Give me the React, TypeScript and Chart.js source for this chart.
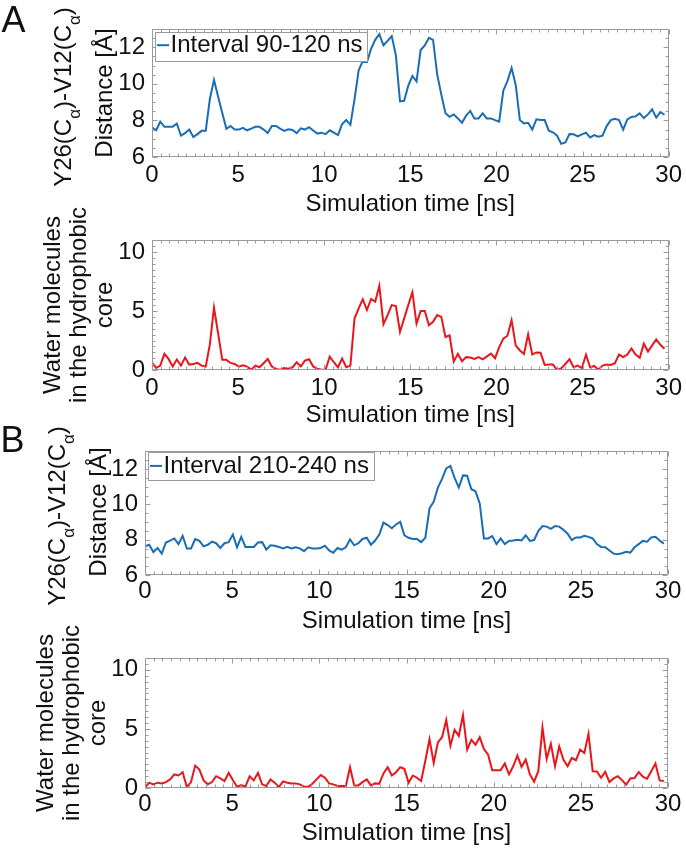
import React, { useEffect, useRef } from 'react';
import { Chart, registerables } from 'chart.js';

Chart.register(...registerables);

// ---- data ----
const TIME_STEP_NS = 0.24;

const DIST_A = [
  7.63, 7.46, 7.93, 7.65, 7.65, 7.66, 7.83, 7.17, 7.3, 7.5, 7.09, 7.25, 7.43, 7.44, 9.17, 10.22, 9.3, 8.4, 7.54, 7.7,
  7.5, 7.5, 7.59, 7.46, 7.55, 7.65, 7.65, 7.5, 7.31, 7.7, 7.7, 7.55, 7.43, 7.52, 7.48, 7.31, 7.57, 7.5, 7.63, 7.45,
  7.28, 7.33, 7.25, 7.46, 7.33, 7.2, 7.8, 8.02, 7.76, 9.15, 10.74, 11.26, 11.2, 11.91, 12.41, 12.72, 12.11, 12.35, 12.61, 11.57,
  9.04, 9.07, 9.9, 10.43, 10.13, 11.85, 12.1, 12.52, 12.41, 10.52, 9.41, 8.39, 8.2, 8.33, 8.11, 7.87, 8.26, 8.52, 8.11, 8.11,
  8.39, 8.11, 8.11, 8.02, 7.93, 9.63, 10.15, 10.87, 9.94, 8.02, 7.83, 7.87, 7.5, 8.06, 8.02, 8.02, 7.44, 7.35, 7.17, 6.72,
  6.8, 7.26, 7.24, 7.13, 7.24, 7.33, 7.07, 7.2, 7.11, 7.17, 7.69, 8.02, 8.09, 8.02, 7.5, 8.06, 8.19, 8.22, 8.39, 8.13,
  8.33, 8.61, 8.15, 8.46, 8.31,
];

const WATER_A = [
  0.66, 0.17, 0.37, 1.37, 0.94, 0.29, 0.89, 0.37, 1.06, 0.46, 0.51, 0.6, 0.37, 0.29, 2.17, 5.29, 3.1, 0.86, 0.86, 0.6,
  0.51, 0.29, 0.4, 0.29, 0.03, 0.37, 0.23, 0.57, 0.94, 0.29, 0.09, 0.03, 0.17, 0.11, 0.23, 0.66, 0.31, 0.8, 0.91, 0.29,
  0.11, 0.03, 0.03, 1.14, 0.66, 0.23, 0.97, 0.23, 0.37, 4.37, 5.23, 6.0, 5.09, 6.03, 5.8, 7.14, 3.89, 4.66, 5.51, 5.43,
  3.23, 4.37, 5.51, 6.6, 3.94, 5.0, 5.0, 3.8, 4.09, 4.66, 4.51, 2.8, 2.94, 0.71, 1.37, 0.74, 1.09, 1.06, 0.94, 1.09,
  0.91, 1.14, 1.4, 1.0, 1.94, 2.66, 2.91, 4.23, 2.09, 1.66, 1.37, 3.03, 1.31, 1.49, 1.46, 0.43, 0.46, 0.46, 0.0, 0.14,
  0.51, 0.91, 0.23, 0.37, 0.17, 1.29, 0.23, 0.34, 0.03, 0.37, 0.46, 0.43, 0.57, 1.31, 1.09, 1.31, 1.83, 1.31, 1.03, 2.23,
  1.57, 2.09, 2.6, 2.14, 1.8,
];

const DIST_B = [
  7.62, 7.71, 7.3, 7.53, 7.21, 7.84, 7.95, 8.07, 7.75, 8.22, 7.5, 7.5, 8.04, 7.93, 7.62, 7.71, 7.89, 7.8, 7.53, 7.8,
  7.86, 8.29, 7.57, 8.16, 7.59, 7.59, 7.59, 7.84, 7.86, 7.44, 7.68, 7.66, 7.59, 7.51, 7.59, 7.5, 7.57, 7.51, 7.35, 7.57,
  7.5, 7.5, 7.53, 7.66, 7.39, 7.26, 7.53, 7.44, 7.57, 8.02, 7.68, 7.8, 8.04, 8.11, 7.71, 7.95, 8.29, 8.97, 8.83, 8.65,
  8.86, 9.01, 8.25, 8.11, 8.04, 8.04, 7.86, 8.11, 9.78, 10.14, 10.95, 11.44, 12.04, 12.18, 11.5, 10.95, 11.64, 11.62, 10.86, 10.74,
  10.05, 8.07, 8.07, 8.2, 7.75, 8.07, 7.75, 7.93, 7.96, 8.0, 7.96, 8.25, 7.93, 7.98, 8.49, 8.77, 8.74, 8.61, 8.77, 8.74,
  8.56, 8.34, 7.98, 8.13, 8.13, 8.22, 8.16, 8.07, 7.75, 7.59, 7.57, 7.39, 7.21, 7.17, 7.23, 7.32, 7.27, 7.57, 7.75, 7.93,
  7.89, 8.13, 8.16, 7.95, 7.78,
];

const WATER_B = [
  0.03, 0.45, 0.31, 0.45, 0.39, 0.5, 0.73, 1.15, 1.06, 1.34, 0.08, 0.5, 1.9, 1.56, 0.64, 0.31, 0.5, 1.0, 0.81, 0.59,
  1.28, 0.67, 0.11, 0.25, 0.11, 1.0, 0.64, 1.28, 0.31, 0.17, 0.73, 0.45, 0.08, 0.56, 0.45, 0.39, 0.39, 0.31, 0.11, 0.11,
  0.36, 0.73, 1.09, 0.87, 0.39, 0.31, 0.17, 0.17, 0.17, 1.76, 0.22, 0.22, 0.5, 0.73, 0.22, 0.39, 0.36, 1.23, 1.76, 1.06,
  1.34, 1.76, 1.62, 0.45, 1.06, 0.87, 0.59, 2.3, 4.13, 2.12, 3.85, 4.3, 5.75, 3.58, 4.92, 4.41, 6.17, 3.24, 4.08, 3.66,
  4.3, 3.3, 2.82, 1.51, 1.51, 1.51, 2.07, 1.15, 1.84, 2.74, 1.79, 2.4, 1.15, 0.53, 1.42, 5.11, 2.46, 3.74, 1.84, 3.52,
  2.4, 1.84, 2.54, 2.35, 3.24, 2.96, 4.58, 1.42, 1.4, 0.87, 1.37, 0.5, 0.81, 1.0, 0.67, 0.28, 0.81, 0.84, 1.34, 0.95,
  0.78, 1.42, 2.07, 0.64, 0.59,
];

const X_TITLE = 'Simulation time [ns]';
const LEGEND_A = 'Interval 90-120 ns';
const LEGEND_B = 'Interval 210-240 ns';

// ---- styles ----
const FONT = '"Liberation Sans", Arial, Helvetica, sans-serif';
const BLUE = '#1a6db5';
const RED = '#e8161b';
const FRAME = '#9a9a9a';
const TEXT = '#111';
const W = 686;

const frameTicksPlugin = {
  id: 'frameTicks',
  afterDatasetsDraw(chart: any, _args: any, opts: any) {
    const { ctx, chartArea } = chart;
    const L = Math.round(chartArea.left) + 0.5;
    const R = Math.round(chartArea.right) - 0.5;
    const T = Math.round(chartArea.top) + 0.5;
    const B = Math.round(chartArea.bottom) - 0.5;
    ctx.save();
    ctx.strokeStyle = FRAME;
    ctx.lineWidth = 1;
    ctx.beginPath();
    ctx.rect(L, T, R - L, B - T);
    const draw = (scale: any, major: number, minor: number, horizontal: boolean) => {
      const n = Math.round((scale.max - scale.min) / minor);
      for (let k = 0; k <= n; k++) {
        const v = scale.min + k * minor;
        const r = v / major;
        const isMajor = Math.abs(r - Math.round(r)) < 1e-6;
        const len = isMajor ? 5 : 3;
        const p = Math.round(scale.getPixelForValue(v)) + 0.5;
        if (horizontal) {
          ctx.moveTo(p, B); ctx.lineTo(p, B - len);
          ctx.moveTo(p, T); ctx.lineTo(p, T + len);
        } else {
          ctx.moveTo(L, p); ctx.lineTo(L + len, p);
          ctx.moveTo(R, p); ctx.lineTo(R - len, p);
        }
      }
    };
    draw(chart.scales.x, 5, 0.5, true);
    draw(chart.scales.y, opts.yMajor, 0.5, false);
    ctx.stroke();
    ctx.restore();
  },
};

const boxLegendPlugin = {
  id: 'boxLegend',
  afterDraw(chart: any, _args: any, opts: any) {
    if (!opts || !opts.text) return;
    const { ctx, chartArea } = chart;
    ctx.save();
    ctx.font = `24px ${FONT}`;
    const tw = ctx.measureText(opts.text).width;
    const x = Math.round(chartArea.left + opts.dx) + 0.5;
    const y = Math.round(chartArea.top + opts.dy) + 0.5;
    const w = Math.round(15 + tw + opts.padRight);
    const h = opts.h;
    ctx.fillStyle = '#fff';
    ctx.fillRect(x, y, w, h);
    ctx.strokeStyle = FRAME;
    ctx.lineWidth = 1;
    ctx.strokeRect(x, y, w, h);
    ctx.strokeStyle = opts.color;
    ctx.lineWidth = 2;
    ctx.beginPath();
    ctx.moveTo(x + 1.5, y + opts.lineY);
    ctx.lineTo(x + 13.5, y + opts.lineY);
    ctx.stroke();
    ctx.fillStyle = TEXT;
    ctx.textBaseline = 'middle';
    ctx.textAlign = 'left';
    ctx.fillText(opts.text, x + 15, y + opts.textY);
    ctx.restore();
  },
};

type PanelProps = {
  top: number;
  height: number;
  left: number;
  right: number;
  plotTop: number;
  plotBottom: number;
  values: number[];
  color: string;
  yMin: number;
  yMax: number;
  yStep: number;
  tickPad: number;
  legend?: { text: string; dx: number; dy: number; h: number; lineY: number; textY: number; padRight: number };
};

function Panel(p: PanelProps) {
  const ref = useRef<HTMLCanvasElement | null>(null);
  useEffect(() => {
    const canvas = ref.current;
    if (!canvas) return;
    const points = p.values.map((v, i) => ({ x: i * TIME_STEP_NS, y: v }));
    const tickFont = { family: FONT, size: 24 };
    const chart = new Chart(canvas, {
      type: 'line',
      data: {
        datasets: [
          {
            label: p.legend ? p.legend.text : '',
            data: points,
            borderColor: p.color,
            backgroundColor: p.color,
            borderWidth: 2,
            pointRadius: 0,
            tension: 0,
            fill: false,
          },
        ],
      },
      options: {
        responsive: false,
        animation: false,
        devicePixelRatio: 1,
        layout: { padding: { top: p.plotTop, right: W - p.right, left: 0, bottom: 0 } },
        plugins: {
          legend: { display: false },
          tooltip: { enabled: false },
          frameTicks: { yMajor: p.yStep },
          boxLegend: p.legend ? { ...p.legend, color: p.color } : {},
        } as any,
        scales: {
          x: {
            type: 'linear',
            min: 0,
            max: 30,
            grid: { display: false, drawTicks: false },
            border: { display: false },
            ticks: {
              stepSize: 5,
              padding: p.tickPad,
              color: TEXT,
              font: tickFont,
              maxRotation: 0,
              autoSkip: false,
              includeBounds: false,
            },
            title: { display: true, text: X_TITLE, color: TEXT, font: tickFont, padding: 0 },
            afterFit: (s: any) => {
              s.height = p.height - p.plotBottom;
            },
          },
          y: {
            type: 'linear',
            min: p.yMin,
            max: p.yMax,
            grid: { display: false, drawTicks: false },
            border: { display: false },
            ticks: {
              stepSize: p.yStep,
              padding: 7,
              color: TEXT,
              font: tickFont,
              includeBounds: false,
            },
            afterFit: (s: any) => {
              s.width = p.left;
            },
          },
        } as any,
      },
      plugins: [frameTicksPlugin, boxLegendPlugin],
    });
    return () => chart.destroy();
  }, []);
  return (
    <canvas
      ref={ref}
      width={W}
      height={p.height}
      style={{ position: 'absolute', left: 0, top: p.top, width: W, height: p.height, display: 'block' }}
    />
  );
}

function RotLine({ cx, cy, children }: { cx: number; cy: number; children: React.ReactNode }) {
  return (
    <div
      style={{
        position: 'absolute',
        left: cx,
        top: cy,
        transform: 'translate(-50%, -50%) rotate(-90deg)',
        whiteSpace: 'nowrap',
        fontSize: 24,
        lineHeight: '24px',
        fontFamily: FONT,
        color: TEXT,
      }}
    >
      {children}
    </div>
  );
}

const Sub = ({ children }: { children: React.ReactNode }) => (
  <span style={{ fontSize: 17, position: 'relative', top: 9, verticalAlign: 'baseline' }}>{children}</span>
);

const DistTitle = () => (
  <>
    Y26(C<Sub>α</Sub>)-V12(C<Sub>α</Sub>)
  </>
);

export default function App() {
  return (
    <div
      style={{
        position: 'absolute',
        left: 0,
        top: 0,
        width: W,
        height: 849,
        background: '#fff',
        overflow: 'hidden',
        fontFamily: FONT,
      }}
    >
      <Panel
        top={0}
        height={219}
        left={152}
        right={673}
        plotTop={29}
        plotBottom={157}
        values={DIST_A}
        color={BLUE}
        yMin={6}
        yMax={13}
        yStep={2}
        tickPad={4}
        legend={{ text: LEGEND_A, dx: 3, dy: 3, h: 29, lineY: 12.7, textY: 12.6, padRight: 5 }}
      />
      <Panel
        top={219}
        height={211}
        left={152}
        right={673}
        plotTop={21}
        plotBottom={151}
        values={WATER_A}
        color={RED}
        yMin={0}
        yMax={11}
        yStep={5}
        tickPad={4}
      />
      <Panel
        top={430}
        height={206}
        left={145}
        right={668}
        plotTop={18}
        plotBottom={145}
        values={DIST_B}
        color={BLUE}
        yMin={6}
        yMax={13}
        yStep={2}
        tickPad={2}
        legend={{ text: LEGEND_B, dx: 3, dy: 1, h: 28, lineY: 13.4, textY: 14, padRight: 6 }}
      />
      <Panel
        top={636}
        height={212}
        left={145}
        right={668}
        plotTop={22}
        plotBottom={152}
        values={WATER_B}
        color={RED}
        yMin={0}
        yMax={11}
        yStep={5}
        tickPad={2}
      />

      <div style={{ position: 'absolute', left: 1.5, top: 2, fontSize: 36, lineHeight: '36px', color: TEXT }}>A</div>
      <div style={{ position: 'absolute', left: 0.5, top: 422, fontSize: 36, lineHeight: '36px', color: TEXT }}>B</div>

      <RotLine cx={64} cy={97}>
        <DistTitle />
      </RotLine>
      <RotLine cx={104} cy={93}>Distance [Å]</RotLine>

      <RotLine cx={51.8} cy={305}>Water molecules</RotLine>
      <RotLine cx={77.8} cy={305}>in the hydrophobic</RotLine>
      <RotLine cx={103.7} cy={305}>core</RotLine>

      <RotLine cx={57.5} cy={516}>
        <DistTitle />
      </RotLine>
      <RotLine cx={97.5} cy={512}>Distance [Å]</RotLine>

      <RotLine cx={45} cy={723}>Water molecules</RotLine>
      <RotLine cx={71} cy={723}>in the hydrophobic</RotLine>
      <RotLine cx={97} cy={723}>core</RotLine>
    </div>
  );
}
